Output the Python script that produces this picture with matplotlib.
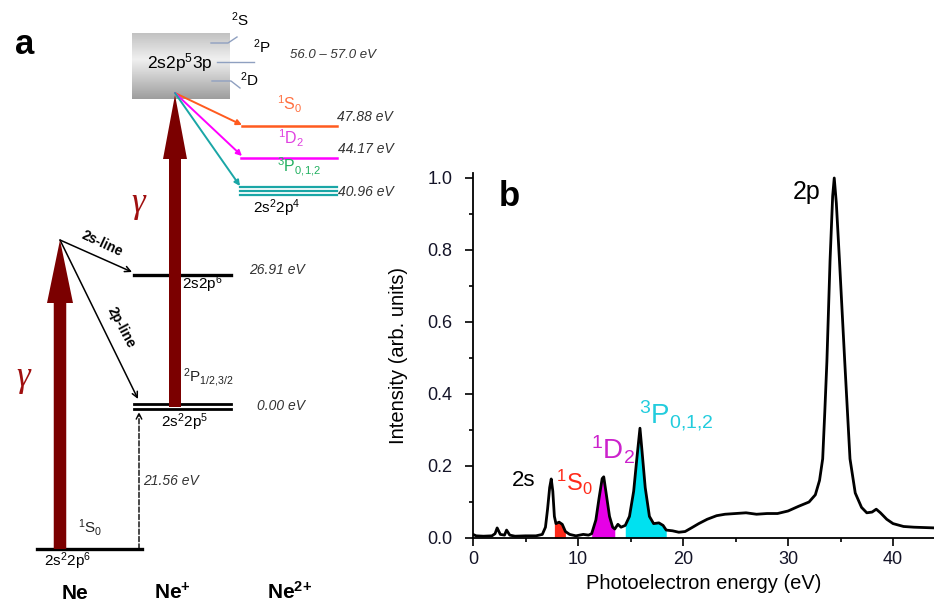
import numpy as np
import matplotlib
matplotlib.use("Agg")
import matplotlib.pyplot as plt
from matplotlib.patches import FancyArrow

plt.rcParams['font.family'] = ['Liberation Sans', 'DejaVu Sans']
plt.rcParams['mathtext.fontset'] = 'custom'
plt.rcParams['mathtext.rm'] = 'Liberation Sans'
plt.rcParams['mathtext.it'] = 'Liberation Sans:italic'
plt.rcParams['mathtext.bf'] = 'Liberation Sans:bold'
plt.rcParams['mathtext.default'] = 'regular'

# photoelectron spectrum (panel b)
energy = [0.0, 0.3, 1.0, 1.8, 2.1, 2.3, 2.6, 3.0, 3.2, 3.5, 4.0, 5.0, 6.0, 6.6,
          6.9, 7.1, 7.3, 7.45, 7.6, 7.75, 7.9, 8.2, 8.5, 8.8, 9.2, 9.8, 10.5,
          11.0, 11.3, 11.7, 12.0, 12.3, 12.45, 12.7, 13.0, 13.3, 13.5, 13.8,
          14.1, 14.5, 14.9, 15.3, 15.6, 15.9, 16.1, 16.4, 16.8, 17.2, 17.7,
          18.1, 18.4, 19.0, 19.6, 20.2, 20.8, 21.5, 22.3, 23.2, 24.0, 25.0,
          26.0, 27.0, 28.0, 29.0, 30.0, 31.0, 32.0, 32.6, 33.0, 33.3, 33.5,
          33.7, 34.0, 34.25, 34.4, 34.6, 34.9, 35.4, 35.9, 36.4, 37.0, 37.5,
          38.0, 38.4, 38.8, 39.4, 40.0, 41.0, 42.0, 44.0]
intensity = [0.010, 0.006, 0.005, 0.006, 0.012, 0.028, 0.010, 0.008, 0.022, 0.008,
             0.005, 0.006, 0.006, 0.010, 0.030, 0.080, 0.140, 0.164, 0.130, 0.060,
             0.040, 0.044, 0.038, 0.018, 0.010, 0.006, 0.010, 0.008, 0.012, 0.050,
             0.110, 0.165, 0.170, 0.120, 0.060, 0.030, 0.025, 0.038, 0.030, 0.035,
             0.060, 0.130, 0.220, 0.305, 0.240, 0.140, 0.060, 0.040, 0.042, 0.035,
             0.022, 0.020, 0.016, 0.018, 0.028, 0.040, 0.052, 0.062, 0.066, 0.068,
             0.070, 0.066, 0.068, 0.068, 0.075, 0.088, 0.100, 0.120, 0.160, 0.220,
             0.350, 0.490, 0.770, 0.950, 1.000, 0.930, 0.770, 0.490, 0.220, 0.125,
             0.085, 0.070, 0.072, 0.080, 0.070, 0.052, 0.040, 0.032, 0.030, 0.028]

# shaded Ne2+ final-state bands (eV ranges)
band_names = ['1S0', '1D2', '3P012']
band_ranges = [(7.75, 8.9), (11.3, 13.5), (14.5, 18.4)]
band_colors = ['#ff2a1a', '#e600e6', '#00e1f0']

# energy level labels (panel a)
level_ev = ['0.00 eV', '26.91 eV', '40.96 eV', '44.17 eV', '47.88 eV']
ion_energy = '21.56 eV'
resonance_range = '56.0 \u2013 57.0 eV'

fig = plt.figure(figsize=(9.34, 6.03), dpi=100)

# ---------- panel a: level scheme, drawn in pixel units ----------
ax = fig.add_axes([0, 0, 1, 1])
ax.set_xlim(0, 934)
ax.set_ylim(603, 0)
ax.axis('off')

dark_red = '#7b0000'
orange = '#ff5b1f'
magenta = '#ff00ff'
teal = '#1aa6a6'

# gradient box for 2s2p5 3p resonance
grad = np.interp(np.linspace(0, 1, 100), [0, 0.4, 1], [0.76, 0.94, 0.62])
ax.imshow(grad[:, None], cmap='gray', vmin=0, vmax=1, aspect='auto',
          extent=(132, 230, 99, 33), zorder=1)
ax.text(180, 63, '2s2p$^5$3p', fontsize=12.5, ha='center', va='center', zorder=3)
sub_c = '#8fa0c0'
ax.plot([211, 228, 237], [43, 43, 37], color=sub_c, lw=1, zorder=2)
ax.plot([217, 254], [62, 62], color=sub_c, lw=1, zorder=2)
ax.plot([212, 231, 240], [81, 81, 88], color=sub_c, lw=1, zorder=2)
ax.text(240, 20, '$^2$S', fontsize=11, ha='center', va='center')
ax.text(262, 47, '$^2$P', fontsize=11, ha='center', va='center')
ax.text(249, 80, '$^2$D', fontsize=11, ha='center', va='center')
ax.text(290, 55, resonance_range, fontsize=9.5, style='italic', color='#333333',
        va='center')

# levels
ax.plot([37, 142], [549, 549], color='k', lw=2.4)
ax.plot([134, 231], [404, 404], color='k', lw=2)
ax.plot([134, 231], [409, 409], color='k', lw=2)
ax.plot([134, 231], [275, 275], color='k', lw=2.4)
ax.plot([242, 337], [126, 126], color=orange, lw=1.8)
ax.plot([241, 337], [158, 158], color=magenta, lw=1.8)
for yy in [187, 191, 195]:
    ax.plot([240, 337], [yy, yy], color=teal, lw=1.6)

# photon arrows
ax.add_patch(FancyArrow(60, 549, 0, -309, width=12.5, head_width=26,
                        head_length=63, length_includes_head=True,
                        color=dark_red, lw=0, zorder=4))
ax.add_patch(FancyArrow(175, 407, 0, -312, width=12, head_width=24,
                        head_length=64, length_includes_head=True,
                        color=dark_red, lw=0, zorder=4))
ax.text(138, 203, '\u03b3', fontsize=25, color='#a01010', ha='center',
        va='center', family='Liberation Serif', style='italic')
ax.text(23, 377, '\u03b3', fontsize=25, color='#a01010', ha='center',
        va='center', family='Liberation Serif', style='italic')

# Auger decay arrows
for (x1, y1), c in zip([(242, 125), (242, 156), (240, 186)], [orange, magenta, teal]):
    ax.annotate('', xy=(x1, y1), xytext=(175, 93),
                arrowprops=dict(arrowstyle='-|>', color=c, lw=1.4,
                                mutation_scale=8, shrinkA=0, shrinkB=0), zorder=5)

# photoionisation arrows
ax.annotate('', xy=(132, 272), xytext=(60, 240),
            arrowprops=dict(arrowstyle='->', color='k', lw=1.1,
                            mutation_scale=10, shrinkA=0, shrinkB=0))
ax.annotate('', xy=(138, 399), xytext=(60, 240),
            arrowprops=dict(arrowstyle='->', color='k', lw=1.1,
                            mutation_scale=10, shrinkA=0, shrinkB=0))
ax.annotate('', xy=(139, 412), xytext=(139, 549),
            arrowprops=dict(arrowstyle='->', color='k', lw=1, ls='--',
                            mutation_scale=10, shrinkA=0, shrinkB=0))
ax.text(102, 244, '2s-line', fontsize=10, fontweight='bold', rotation=-25,
        ha='center', va='center', rotation_mode='anchor')
ax.text(121, 327, '2p-line', fontsize=10, fontweight='bold', rotation=-62,
        ha='center', va='center', rotation_mode='anchor')

# level labels
ax.text(290, 104, '$^1$S$_0$', fontsize=11.5, color='#ff7040', ha='center', va='center')
ax.text(291, 138, '$^1$D$_2$', fontsize=11.5, color='#e040e0', ha='center', va='center')
ax.text(299, 167, '$^3$P$_{0{,}1{,}2}$', fontsize=11.5, color='#22b060', ha='center', va='center')
ax.text(277, 208, '2s$^2$2p$^4$', fontsize=11, ha='center', va='center')
ax.text(202, 284, '2s2p$^6$', fontsize=11, ha='center', va='center')
ax.text(183, 378, '$^2$P$_{1/2{,}3/2}$', fontsize=11, ha='left', va='center', color='#222222')
ax.text(185, 422, '2s$^2$2p$^5$', fontsize=11, ha='center', va='center')
ax.text(90, 527, '$^1$S$_0$', fontsize=11, ha='center', va='center', color='#222222')
ax.text(68, 561, '2s$^2$2p$^6$', fontsize=11, ha='center', va='center')

for txt, (xx, yy) in zip(level_ev, [(257, 406), (249, 270), (338, 192), (338, 149), (337, 117)]):
    ax.text(xx, yy, txt, fontsize=10, style='italic', color='#333333', va='center')
ax.text(143, 481, ion_energy, fontsize=10, style='italic', color='#333333', va='center')

ax.text(75, 599, 'Ne', fontsize=15, fontweight='bold', ha='center', va='baseline')
ax.text(172, 599, r'Ne$^{\mathbf{{+}}}$', fontsize=15, fontweight='bold', ha='center', va='baseline')
ax.text(290, 599, r'Ne$^{\mathbf{2{+}}}$', fontsize=15, fontweight='bold', ha='center', va='baseline')
ax.text(25, 44, 'a', fontsize=25, fontweight='bold', ha='center', va='center')

# ---------- panel b: spectrum ----------
E = np.array(energy)
I = np.array(intensity)
bx = fig.add_axes([473 / 934, 1 - 538 / 603, 1 - 473 / 934, 1.015 * 360 / 603])
bx.patch.set_alpha(0)
for (lo, hi), c in zip(band_ranges, band_colors):
    m = (E >= lo) & (E <= hi)
    bx.fill_between(E[m], 0, I[m], color=c, lw=0)
bx.plot(E, I, color='k', lw=2)
bx.set_xlim(0, 43.9)
bx.set_ylim(0, 1.015)
bx.spines['top'].set_visible(False)
bx.spines['right'].set_visible(False)
bx.spines['left'].set_linewidth(1.3)
bx.spines['bottom'].set_linewidth(1.3)
bx.set_xticks([0, 10, 20, 30, 40])
bx.set_xticks([5, 15, 25, 35], minor=True)
bx.set_yticks([0.0, 0.2, 0.4, 0.6, 0.8, 1.0])
bx.set_yticks([0.1, 0.3, 0.5, 0.7, 0.9], minor=True)
bx.yaxis.set_major_formatter(plt.FormatStrFormatter('%.1f'))
bx.tick_params(which='major', direction='out', length=6, width=1.2,
               labelsize=13, labelcolor='#141428')
bx.tick_params(axis='y', which='major', pad=9)
bx.tick_params(which='minor', direction='out', length=3, width=1.2)
bx.set_xlabel('Photoelectron energy (eV)', fontsize=14.5, labelpad=4)
bx.set_ylabel('Intensity (arb. units)', fontsize=14.5, labelpad=14)

bx.text(3.5, 0.95, 'b', fontsize=25, fontweight='bold', ha='center', va='center')
bx.text(31.8, 0.96, '2p', fontsize=18, ha='center', va='center')
bx.text(4.8, 0.16, '2s', fontsize=16, ha='center', va='center')
bx.text(9.6, 0.155, '$^1$S$_0$', fontsize=17, color='#ff2a1a', ha='center', va='center')
bx.text(13.3, 0.245, '$^1$D$_2$', fontsize=20, color='#cc22cc', ha='center', va='center')
bx.text(19.4, 0.34, '$^3$P$_{0{,}1{,}2}$', fontsize=20, color='#22ccdd', ha='center', va='center')

fig.savefig('out.png', dpi=100)
